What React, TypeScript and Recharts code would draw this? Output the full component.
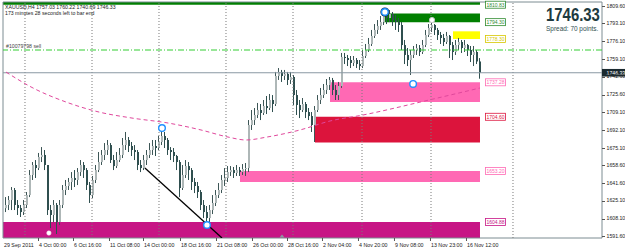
import React from 'react';
import { ComposedChart, Bar, Line, XAxis, YAxis, ReferenceArea, ReferenceLine, ReferenceDot } from 'recharts';

const FONT = '"Liberation Sans", Arial, sans-serif';
const BULL = '#aeb7b7';
const BEAR = '#2f4f4f';
const WICK = '#3d5656';

// ---- data (H4 bars, XAUUSD) ----
const open0 = 1618.0;
const highs = [
  1628.5, 1629.5, 1638.0, 1637.1, 1625.7, 1621.0, 1625.7, 1633.3, 1654.1, 1661.7,
  1663.6, 1670.3, 1675.9, 1673.1, 1658.9, 1621.0, 1625.7, 1622.9, 1625.7, 1639.9,
  1644.7, 1646.6, 1652.2, 1654.1, 1656.0, 1663.6, 1661.7, 1656.0, 1642.8, 1648.5,
  1658.9, 1671.2, 1673.1, 1679.7, 1682.6, 1679.7, 1668.4, 1671.2, 1675.0, 1684.5,
  1690.2, 1685.4, 1680.7, 1677.8, 1673.1, 1663.6, 1668.4, 1673.1, 1679.7, 1682.6,
  1682.6, 1686.4, 1693.9, 1690.2, 1684.5, 1675.9, 1675.0, 1668.4, 1663.6, 1658.9,
  1663.6, 1661.7, 1656.0, 1646.6, 1642.8, 1635.2, 1625.7, 1620.0, 1621.0, 1630.4,
  1635.2, 1641.8, 1649.4, 1656.0, 1657.9, 1657.9, 1657.0, 1658.9, 1657.0, 1659.8,
  1660.8, 1701.5, 1711.0, 1712.9, 1717.7, 1716.7, 1720.5, 1724.3, 1726.2, 1725.2,
  1747.1, 1750.8, 1749.0, 1749.0, 1747.1, 1747.1, 1744.2, 1730.0, 1720.5, 1722.4,
  1718.6, 1712.9, 1709.1, 1714.8, 1725.2, 1731.9, 1735.7, 1740.4, 1742.3, 1741.4,
  1734.7, 1737.6, 1765.1, 1765.1, 1763.2, 1762.2, 1762.2, 1760.3, 1758.4, 1767.9,
  1773.6, 1779.3, 1786.9, 1792.5, 1796.3, 1800.1, 1803.9, 1803.9, 1805.8, 1803.9,
  1801.1, 1798.2, 1794.4, 1777.4, 1769.8, 1767.9, 1771.7, 1773.6, 1772.6, 1777.4,
  1786.9, 1792.5, 1796.3, 1792.5, 1788.8, 1785.0, 1783.1, 1785.0, 1782.1, 1775.5,
  1777.4, 1779.3, 1777.4, 1777.4, 1773.6, 1771.7, 1771.7, 1767.9, 1760.22,
];
const lows = [
  1614.3, 1616.2, 1616.2, 1616.2, 1611.5, 1609.6, 1611.5, 1618.1, 1628.5, 1644.7,
  1646.6, 1654.1, 1661.7, 1654.1, 1611.5, 1599.1, 1604.8, 1593.5, 1602.0, 1618.1,
  1630.4, 1635.2, 1635.2, 1638.0, 1639.9, 1648.5, 1646.6, 1635.2, 1622.9, 1627.6,
  1641.8, 1652.2, 1658.9, 1663.6, 1668.4, 1660.8, 1654.1, 1656.0, 1661.7, 1665.5,
  1673.1, 1671.2, 1667.4, 1663.6, 1654.1, 1652.2, 1654.1, 1658.9, 1665.5, 1668.4,
  1667.4, 1673.1, 1677.8, 1675.0, 1668.4, 1663.6, 1661.7, 1654.1, 1628.5, 1635.2,
  1646.6, 1644.7, 1635.2, 1632.3, 1627.6, 1616.2, 1608.6, 1602.9, 1604.8, 1612.4,
  1620.0, 1627.6, 1632.3, 1639.0, 1642.8, 1648.5, 1646.6, 1648.5, 1648.5, 1649.4,
  1648.5, 1652.2, 1692.1, 1696.8, 1703.4, 1701.5, 1706.3, 1707.2, 1711.0, 1709.1,
  1714.8, 1739.5, 1737.6, 1739.5, 1734.7, 1735.7, 1715.8, 1706.3, 1703.4, 1709.1,
  1703.4, 1701.5, 1690.2, 1680.7, 1709.1, 1716.7, 1722.4, 1726.2, 1730.0, 1725.2,
  1720.5, 1720.5, 1731.9, 1754.6, 1752.7, 1750.8, 1752.7, 1750.8, 1749.0, 1750.8,
  1760.3, 1766.0, 1771.7, 1779.3, 1783.1, 1786.9, 1791.6, 1792.5, 1794.4, 1790.7,
  1786.9, 1785.0, 1767.9, 1754.6, 1752.7, 1744.2, 1760.3, 1763.2, 1762.2, 1764.1,
  1770.7, 1780.2, 1785.0, 1782.1, 1777.4, 1773.6, 1771.7, 1773.6, 1760.3, 1758.4,
  1763.2, 1767.9, 1765.1, 1766.0, 1762.2, 1756.5, 1752.7, 1754.6, 1740.69,
];
const closes = [
  1621.0, 1625.7, 1635.2, 1621.0, 1618.1, 1614.3, 1621.0, 1630.4, 1649.4, 1658.9,
  1656.0, 1666.5, 1668.4, 1658.9, 1616.2, 1611.5, 1621.0, 1604.8, 1621.0, 1635.2,
  1639.0, 1642.8, 1646.6, 1644.7, 1652.2, 1658.9, 1654.1, 1639.9, 1630.4, 1644.7,
  1654.1, 1661.7, 1668.4, 1673.1, 1677.8, 1663.6, 1657.9, 1663.6, 1668.4, 1677.8,
  1682.6, 1676.9, 1673.1, 1671.2, 1658.9, 1656.0, 1663.6, 1668.4, 1673.1, 1676.9,
  1675.0, 1680.7, 1686.4, 1682.6, 1673.1, 1671.2, 1667.4, 1661.7, 1637.1, 1649.4,
  1657.9, 1654.1, 1642.8, 1639.0, 1633.3, 1621.0, 1614.3, 1608.6, 1616.2, 1622.9,
  1630.4, 1635.2, 1644.7, 1646.6, 1652.2, 1654.1, 1651.3, 1654.1, 1652.2, 1655.1,
  1656.0, 1696.8, 1701.5, 1706.3, 1711.0, 1708.2, 1714.8, 1712.9, 1720.5, 1716.7,
  1743.3, 1747.1, 1743.3, 1745.2, 1739.5, 1742.3, 1725.2, 1715.8, 1711.0, 1716.7,
  1709.1, 1705.3, 1696.8, 1711.0, 1720.5, 1725.2, 1730.0, 1734.7, 1739.5, 1730.0,
  1725.2, 1733.8, 1761.3, 1760.3, 1758.4, 1755.6, 1758.4, 1754.6, 1752.7, 1762.2,
  1767.9, 1773.6, 1781.2, 1786.9, 1790.7, 1794.4, 1801.1, 1798.2, 1802.0, 1796.3,
  1794.4, 1791.6, 1772.6, 1763.2, 1758.4, 1763.2, 1767.9, 1769.8, 1766.0, 1772.6,
  1782.1, 1788.8, 1791.6, 1786.9, 1782.1, 1779.3, 1775.5, 1781.2, 1772.6, 1766.0,
  1772.6, 1775.5, 1769.8, 1772.6, 1767.9, 1763.2, 1766.0, 1757.03, 1746.33,
];

// moving average, read at a few bars
const maIdx = [0, 9, 20, 31, 42, 54, 65, 74, 80, 87, 98, 108, 119, 141, 158];
const maVal = [1747.0, 1731.9, 1718.6, 1709.1, 1703.4, 1698.7, 1692.1, 1685.4, 1682.6, 1685.4, 1692.1, 1700.6, 1706.3, 1720.5, 1731.9];

const timeTickIdx = [-1, 10.67, 22.33, 34.33, 45.67, 58, 70, 82, 93.67, 105.33, 117.33, 129.33, 141.33, 153.33];
const timeTickLabels = ['29 Sep 2011', '4 Oct 00:00', '6 Oct 16:00', '11 Oct 08:00', '14 Oct 00:00', '18 Oct 16:00', '21 Oct 08:00', '26 Oct 00:00', '28 Oct 16:00', '2 Nov 04:00', '4 Nov 20:00', '9 Nov 08:00', '13 Nov 23:00', '16 Nov 12:00'];
const priceTicks = [1809.6, 1793.1, 1776.1, 1759.1, 1742.6, 1725.6, 1709.1, 1692.1, 1675.1, 1658.6, 1641.6, 1625.1, 1608.1, 1591.6];
const gridIdx = [6.33, 28.67, 51, 73.33, 95.67, 118.67, 141.67, 169];

const zoneX1 = [-1, 126, 149, 108, 103, 78, -1];
const zoneX2 = [158, 158, 158, 158, 158, 158, 158];
const zoneLow = [1810.83, 1794.3, 1778.3, 1718.6, 1680.2, 1642.8, 1589.7];
const zoneHigh = [1813.4, 1802.5, 1785.6, 1737.28, 1704.6, 1653.2, 1604.88];
const zoneColor = ['#007f00', '#007f00', '#ffff00', '#ff69b4', '#dc143c', '#ff69b4', '#c71585'];

const labelPrice = [1810.83, 1794.3, 1778.3, 1737.28, 1704.6, 1653.2, 1604.88];
const labelColor = ['#2e8b2e', '#2e8b2e', '#d8c800', '#ff69b4', '#dc143c', '#ff69b4', '#c71585'];

const bidPrice = 1746.33;
const orderPrice = 1767.9;
const trendFrom = { x: 46.3, y: 1656.0 };
const trendTo = { x: 72, y: 1589.7 };
const ringPoints = [
  { x: 52, y: 1693.9 },
  { x: 67, y: 1602.0 },
  { x: 135.7, y: 1735.7 },
];
const bigRing = { x: 126.3, y: 1803.9 };
const grayRing = { x: 142, y: 1796.3 };
const whiteDot = { x: 14.3, y: 1594.4 };
const shiftMarkIdx = 92;

const X_DOMAIN: [number, number] = [-1, 198.67];
const Y_DOMAIN: [number, number] = [1589.7, 1813.4];

const bars = closes.map((c, i) => ({
  i,
  open: i === 0 ? open0 : closes[i - 1],
  high: highs[i],
  low: lows[i],
  close: c,
  ma: maIdx.indexOf(i) >= 0 ? maVal[maIdx.indexOf(i)] : null,
}));

const Candle = (props: any) => {
  const { x, y, width, height, payload } = props;
  if (!payload) return null;
  const { open, close, high, low } = payload;
  const top = Math.min(y, y + height);
  const h = Math.abs(height);
  const cx = Math.round(x + width / 2);
  const k = high === low ? 0 : h / (high - low);
  const yO = top + (high - open) * k;
  const yC = top + (high - close) * k;
  const up = close >= open;
  const bt = Math.min(yO, yC);
  const bh = Math.max(1, Math.abs(yC - yO));
  return (
    <g>
      <line x1={cx - 0.5} x2={cx - 0.5} y1={top} y2={top + h} stroke={up ? WICK : BEAR} strokeWidth={1} />
      <rect x={cx - 1} y={bt} width={2} height={bh} fill={up ? BULL : BEAR} />
    </g>
  );
};

const TimeTick = (props: any) => {
  const { x, payload } = props;
  const k = timeTickIdx.indexOf(payload.value);
  const label = k >= 0 ? timeTickLabels[k] : '';
  return (
    <g>
      {k > 0 && <line x1={x + 0.5} x2={x + 0.5} y1={238} y2={241} stroke="#555" strokeWidth={1} />}
      <text x={x + 1} y={246.5} fontSize={5.3} fontFamily={FONT} fill="#222" textAnchor="start">{label}</text>
    </g>
  );
};

const PriceTick = (props: any) => {
  const { y, payload } = props;
  return (
    <g>
      <line x1={602} x2={605} y1={Math.round(y) + 0.5} y2={Math.round(y) + 0.5} stroke="#555" strokeWidth={1} />
      <text x={606.5} y={y} dy={1.8} fontSize={5.2} fontFamily={FONT} fill="#222" textAnchor="start">{payload.value.toFixed(2)}</text>
    </g>
  );
};

const makeZoneLabel = (text: string, color: string) => (p: any) => {
  const { cx, cy } = p;
  return (
    <g>
      <rect x={cx + 5.5} y={cy - 3.5} width={20} height={7} fill="#fff" stroke={color} strokeWidth={0.8} />
      <text x={cx + 15.5} y={cy} dy={1.8} fontSize={5} fontFamily={FONT} fill={color} textAnchor="middle">{text}</text>
    </g>
  );
};

const BidBox = (p: any) => {
  const { cx, cy } = p;
  return (
    <g>
      <rect x={cx} y={cy - 3.8} width={23} height={7.6} fill="#1b2a30" />
      <text x={cx + 4.5} y={cy} dy={1.8} fontSize={5.2} fontFamily={FONT} fill="#fff" textAnchor="start">{bidPrice.toFixed(2)}</text>
    </g>
  );
};

const BigRing = (p: any) => (
  <g>
    <circle cx={p.cx} cy={p.cy} r={4.5} fill="#10233f" />
    <circle cx={p.cx} cy={p.cy} r={3.3} fill="#fff" stroke="#1e90ff" strokeWidth={1.4} />
  </g>
);

const ShiftMark = (p: any) => (
  <path d={`M${p.cx - 2.5},${p.cy - 0.5} L${p.cx + 2.5},${p.cy - 0.5} L${p.cx},${p.cy - 3.5} Z`} fill="#8a9aa0" />
);

export default function App() {
  return (
    <div style={{ position: 'absolute', left: 0, top: 0, width: 625, height: 251, background: '#fff', overflow: 'hidden' }}>
      <ComposedChart width={625} height={251} data={bars} margin={{ top: 2, right: 0, bottom: 0, left: 3 }}>
        <XAxis type="number" dataKey="i" domain={X_DOMAIN} allowDataOverflow ticks={timeTickIdx} interval={0}
          tick={<TimeTick />} tickLine={false} axisLine={false} height={13} tickSize={0} tickMargin={0} />
        <YAxis yAxisId={0} orientation="right" type="number" domain={Y_DOMAIN} allowDataOverflow ticks={priceTicks} interval={0}
          tick={<PriceTick />} tickLine={false} axisLine={false} width={23} tickSize={0} tickMargin={0} />

        {zoneColor.map((c, k) => (
          <ReferenceArea key={'z' + k} x1={zoneX1[k]} x2={zoneX2[k]} y1={zoneLow[k]} y2={zoneHigh[k]}
            fill={c} fillOpacity={1} stroke="none" ifOverflow="hidden" />
        ))}

        {gridIdx.map((g) => (
          <ReferenceLine key={'g' + g} x={g} stroke="#7a7a7a" strokeDasharray="1 2" strokeWidth={1} ifOverflow="hidden" />
        ))}

        <ReferenceLine y={orderPrice} stroke="#32cd32" strokeDasharray="6 2 1 2" strokeWidth={1} />
        <ReferenceLine y={bidPrice} stroke="#8a98a3" strokeWidth={1} />

        <Line dataKey="ma" type="monotone" connectNulls stroke="#e0489c" strokeWidth={1} strokeDasharray="4 3" dot={false} isAnimationActive={false} />

        <Bar dataKey={(d: any) => [d.low, d.high]} barSize={3} shape={<Candle />} isAnimationActive={false} />

        <ReferenceLine segment={[trendFrom, trendTo]} stroke="#000" strokeWidth={1.3} ifOverflow="hidden" />

        {ringPoints.map((p, k) => (
          <ReferenceDot key={'r' + k} x={p.x} y={p.y} r={3.3} fill="#fff" stroke="#1e90ff" strokeWidth={1.4} />
        ))}
        <ReferenceDot x={bigRing.x} y={bigRing.y} r={4} shape={BigRing} />
        <ReferenceDot x={grayRing.x} y={grayRing.y} r={2.6} fill="#fff" stroke="#c8c8c8" strokeWidth={1} />
        <ReferenceDot x={whiteDot.x} y={whiteDot.y} r={2.2} fill="#fff" stroke="#f4d7ea" strokeWidth={0.6} />

        {labelPrice.map((lp, k) => (
          <ReferenceDot key={'l' + k} x={158} y={lp} r={1} shape={makeZoneLabel(lp.toFixed(2), labelColor[k])} ifOverflow="visible" />
        ))}

        <ReferenceArea x1={X_DOMAIN[0]} x2={X_DOMAIN[1]} y1={Y_DOMAIN[0]} y2={Y_DOMAIN[1]} fill="none" stroke="#7d8c92" strokeWidth={1} ifOverflow="visible" />
        <ReferenceDot x={shiftMarkIdx} y={Y_DOMAIN[0]} r={1} shape={ShiftMark} ifOverflow="visible" />
        <ReferenceDot x={X_DOMAIN[1]} y={bidPrice} r={1} shape={BidBox} ifOverflow="visible" />
      </ComposedChart>

      <svg width={625} height={251} style={{ position: 'absolute', left: 0, top: 0, pointerEvents: 'none' }}>
        <text transform="translate(5,8.8) scale(0.93,1)" fontSize={5.6} fontFamily={FONT} fill="#222">XAUUSD,H4  1757.03 1760.22 1740.69 1746.33</text>
        <text transform="translate(5,14.8) scale(0.93,1)" fontSize={5.6} fontFamily={FONT} fill="#222">173 minutes 28 seconds left to bar end</text>
        <text transform="translate(6,47.8) scale(0.93,1)" fontSize={5.6} fontFamily={FONT} fill="#444">#10079798 sell</text>
        <text transform="translate(546,20.8) scale(0.785,1)" fontSize={19} fontWeight="bold" fontFamily={FONT} fill="#1e3a40">1746.33</text>
        <text transform="translate(546,31.3) scale(0.95,1)" fontSize={6.8} fontFamily={FONT} fill="#2f4f4f">Spread: 70 points.</text>
      </svg>
    </div>
  );
}
